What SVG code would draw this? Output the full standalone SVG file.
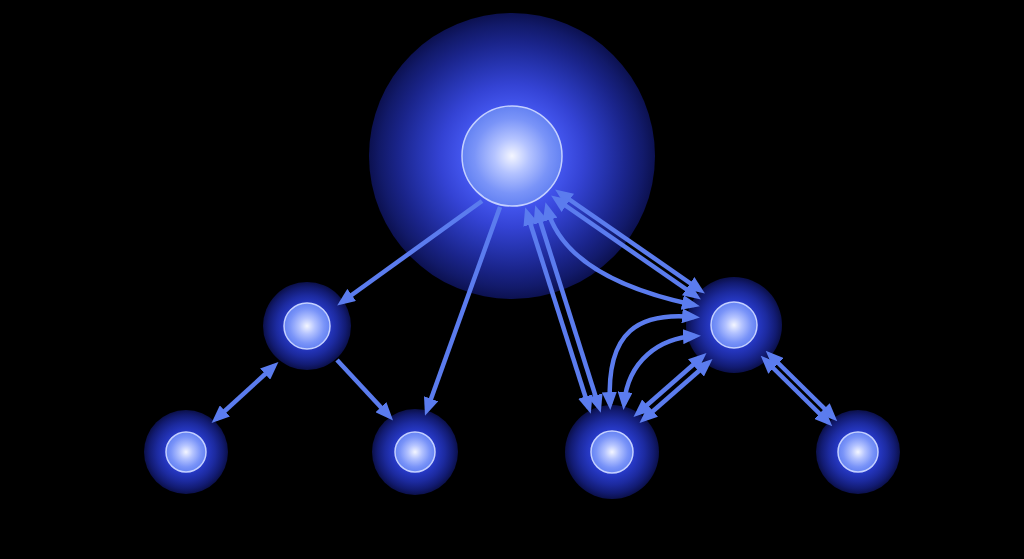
<svg xmlns="http://www.w3.org/2000/svg" width="1024" height="559" viewBox="0 0 1024 559">
<defs>
<radialGradient id="haloBig">
<stop offset="0" stop-color="#5466ff"/>
<stop offset="0.36" stop-color="#4254ec"/>
<stop offset="0.5" stop-color="#3443d4"/>
<stop offset="0.65" stop-color="#2634b0"/>
<stop offset="0.8" stop-color="#1a248a"/>
<stop offset="0.92" stop-color="#121a6a"/>
<stop offset="1" stop-color="#0c1150"/>
</radialGradient>
<radialGradient id="haloSmall">
<stop offset="0" stop-color="#3448e0"/>
<stop offset="0.5" stop-color="#2638c4"/>
<stop offset="0.7" stop-color="#1c2a9e"/>
<stop offset="0.88" stop-color="#121b72"/>
<stop offset="1" stop-color="#0b104a"/>
</radialGradient>
<radialGradient id="sphere">
<stop offset="0" stop-color="#f4f6ff"/>
<stop offset="0.35" stop-color="#b4c3ff"/>
<stop offset="0.75" stop-color="#7a94f8"/>
<stop offset="1" stop-color="#6482f2"/>
</radialGradient>
<marker id="ah" viewBox="0 0 18 15" refX="12" refY="7.5" markerWidth="18" markerHeight="15" markerUnits="userSpaceOnUse" orient="auto-start-reverse">
<path d="M0,0 L18,7.5 L0,15 z" fill="#5b7cee"/>
</marker>
<style>
.halo-big{fill:url(#haloBig)}
.halo{fill:url(#haloSmall)}
.sph{fill:url(#sphere);stroke:#c4d0ff;stroke-width:1.5}
.e{fill:none;stroke:#5b7cee;stroke-width:4.5;marker-end:url(#ah)}
.e2{fill:none;stroke:#5b7cee;stroke-width:4.5;marker-end:url(#ah);marker-start:url(#ah)}
</style>
</defs>
<rect width="1024" height="559" fill="#000"/>
<g id="node-top"><circle class="halo-big" cx="512" cy="156" r="143"/><circle class="sph" cx="512" cy="156" r="50"/></g>
<g id="node-leftmid"><circle class="halo" cx="307" cy="326" r="44"/><circle class="sph" cx="307" cy="326" r="23"/></g>
<g id="node-right"><circle class="halo" cx="734" cy="325" r="48"/><circle class="sph" cx="734" cy="325" r="23"/></g>
<g id="node-b1"><circle class="halo" cx="186" cy="452" r="42"/><circle class="sph" cx="186" cy="452" r="20"/></g>
<g id="node-b2"><circle class="halo" cx="415" cy="452" r="43"/><circle class="sph" cx="415" cy="452" r="20"/></g>
<g id="node-b3"><circle class="halo" cx="612" cy="452" r="47"/><circle class="sph" cx="612" cy="452" r="21"/></g>
<g id="node-b4"><circle class="halo" cx="858" cy="452" r="42"/><circle class="sph" cx="858" cy="452" r="20"/></g>
<g id="connectors">
<path class="e" d="M482,201 L342,302"/>
<path class="e" d="M500,207 L427,410"/>
<path class="e" d="M337,360 L389,416"/>
<path class="e2" d="M274,366 L216,419"/>
<path class="e2" d="M527,213 L589,408"/>
<path class="e2" d="M537,211 L599,407"/>
<path class="e2" d="M560,193 L700,290"/>
<path class="e2" d="M556,199 L696,296"/>
<path class="e2" d="M547,208 C558,250 600,285 694,305"/>
<path class="e2" d="M610,404 C606,330 640,312 694,317"/>
<path class="e2" d="M624,404 C628,360 660,338 695,336"/>
<path class="e2" d="M638,413 L702,357"/>
<path class="e2" d="M644,419 L708,363"/>
<path class="e2" d="M770,355 L833,417"/>
<path class="e2" d="M765,360 L828,422"/>
</g>
</svg>
